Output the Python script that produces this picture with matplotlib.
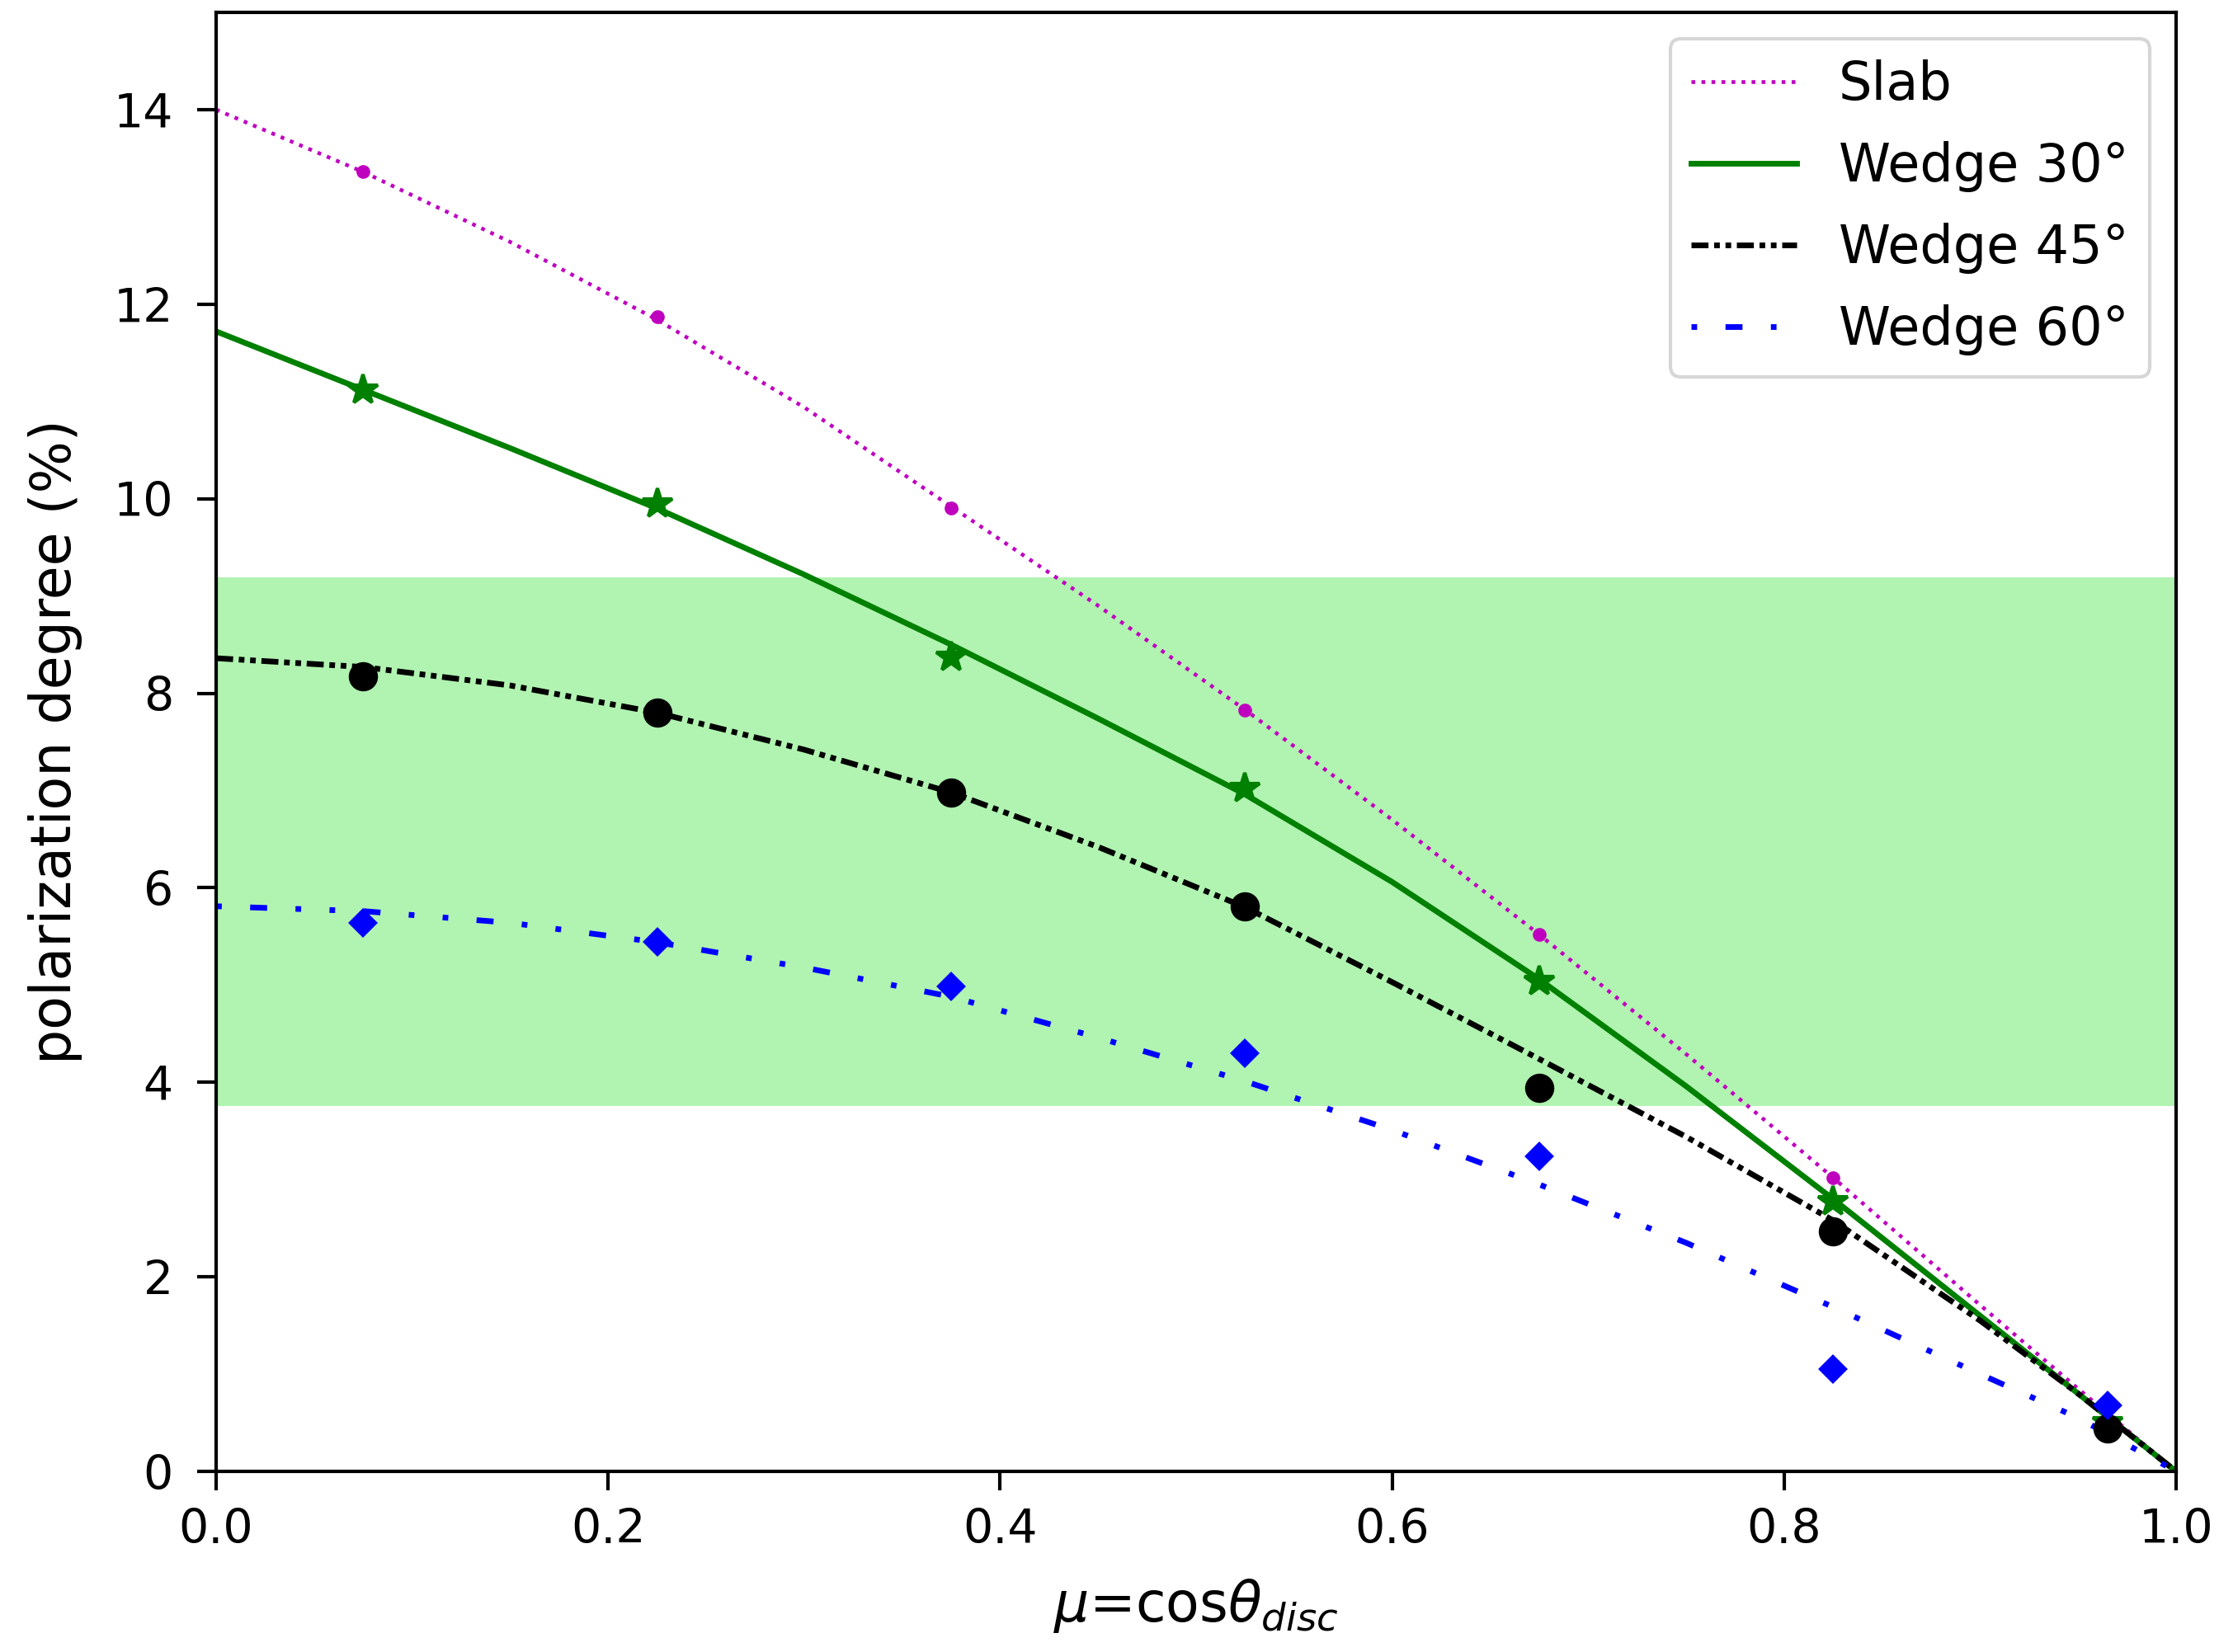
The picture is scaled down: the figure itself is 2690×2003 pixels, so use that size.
import numpy as np
import matplotlib
matplotlib.use("Agg")
import matplotlib.pyplot as plt

# binned simulation results
mu_pts = [0.075, 0.225, 0.375, 0.525, 0.675, 0.825, 0.965]
slab_pts = [13.36, 11.87, 9.90, 7.83, 5.52, 3.02, 0.50]
w30_pts = [11.12, 9.95, 8.37, 7.02, 5.04, 2.77, 0.50]
w45_pts = [8.17, 7.80, 6.98, 5.81, 3.94, 2.47, 0.44]
w60_pts = [5.64, 5.44, 4.99, 4.30, 3.24, 1.05, 0.68]

# fitted curves
mu_fit = [0.0, 0.075, 0.15, 0.225, 0.3, 0.375, 0.45, 0.525, 0.6, 0.675, 0.75, 0.825, 0.9, 0.95, 1.0]
slab_fit = [14.0, 13.36, 12.64, 11.84, 10.94, 9.92, 8.90, 7.83, 6.70, 5.52, 4.29, 3.02, 1.71, 0.85, 0.0]
w30_fit = [11.72, 11.12, 10.52, 9.90, 9.22, 8.50, 7.74, 6.96, 6.06, 5.06, 3.96, 2.80, 1.60, 0.80, 0.0]
w45_fit = [8.36, 8.27, 8.08, 7.80, 7.42, 6.98, 6.42, 5.80, 5.03, 4.24, 3.44, 2.58, 1.55, 0.80, 0.0]
w60_fit = [5.81, 5.76, 5.64, 5.44, 5.18, 4.88, 4.46, 4.01, 3.51, 2.95, 2.35, 1.69, 1.00, 0.55, 0.0]

# observed range
obs_lo, obs_hi = 3.76, 9.19

W, H, DPI = 2690, 2003, 300
fig = plt.figure(figsize=(W / DPI, H / DPI), dpi=DPI)
ax = fig.add_axes([262 / W, 1 - 1784 / H, (2638 - 262) / W, (1784 - 15) / H])

ax.axhspan(obs_lo, obs_hi, color="lightgreen", alpha=0.7, lw=0)

lw = 1.65
ax.plot(mu_fit, slab_fit, color="m", ls=":", lw=1.1, label="Slab")
ax.plot(mu_fit, w30_fit, color="g", ls="-", lw=lw, label="Wedge 30°")
ax.plot(mu_fit, w45_fit, color="k", ls=(0, (3, 1, 1, 1, 1, 1)), lw=lw, label="Wedge 45°")
ax.plot(mu_fit, w60_fit, color="b", ls=(14, (3, 5, 1, 5, 1, 5)), lw=lw, label="Wedge 60°")

ax.plot(mu_pts, slab_pts, "o", color="m", ms=3)
ax.plot(mu_pts, w30_pts, "*", color="g", ms=9)
ax.plot(mu_pts, w45_pts, "o", color="k", ms=7.5)
ax.plot(mu_pts, w60_pts, "D", color="b", ms=5)

ax.set_xlim(0, 1)
ax.set_ylim(0, 15)
ax.set_yticks([0, 2, 4, 6, 8, 10, 12, 14])
ax.tick_params(labelsize=13.7, length=5.5, width=1.0)
ax.tick_params(axis="y", pad=7)
ax.tick_params(axis="x", pad=5)
for s in ax.spines.values():
    s.set_linewidth(1.0)

ax.set_xlabel(r"$\mu$=cos$\theta_{disc}$", fontsize=16, labelpad=7)
ax.set_ylabel("polarization degree (%)", fontsize=16, labelpad=9)

ax.legend(loc="upper right", fontsize=15.3, labelspacing=0.58)

fig.savefig("out.png", dpi=DPI)
